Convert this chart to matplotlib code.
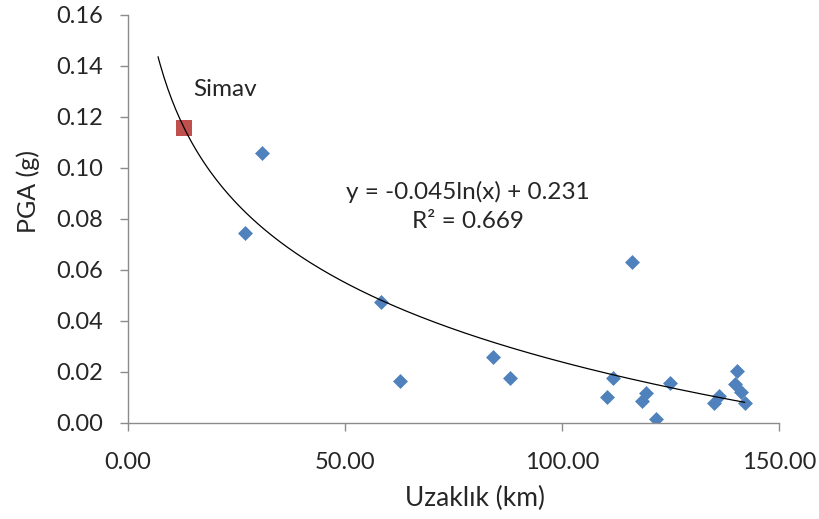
import numpy as np
import matplotlib
matplotlib.use("Agg")
import matplotlib.pyplot as plt

plt.rcParams['font.family'] = ['Lato', 'DejaVu Sans']

# Station distance (km) and peak ground acceleration (g)
distance_km = [31.0, 27.0, 58.4, 62.7, 116.1, 84.0, 87.9, 111.6, 110.3,
               119.2, 118.5, 121.5, 124.9, 140.2, 139.9, 141.1, 142.0,
               134.9, 136.1]
pga_g = [0.1056, 0.0743, 0.0475, 0.0165, 0.0631, 0.0256, 0.0176, 0.0176,
         0.0102, 0.0118, 0.0085, 0.0015, 0.0155, 0.0204, 0.0150, 0.0122,
         0.0078, 0.0076, 0.0105]

# Simav station highlighted separately
simav_km = [13.0]
simav_pga = [0.1155]
simav_label = "Simav"

# Logarithmic trendline: y = a*ln(x) + b
trend_a = -0.045
trend_b = 0.231
trend_r2 = 0.669
trend_range = [7.0, 142.0]

x_ticks = [0, 50, 100, 150]
y_ticks = [0.00, 0.02, 0.04, 0.06, 0.08, 0.10, 0.12, 0.14, 0.16]

text_color = '#262626'
axis_color = '#8c8c8c'

fig = plt.figure(figsize=(8.2, 5.19), dpi=100)
ax = fig.add_axes([0.1557, 0.1856, 0.7947, 0.7861])

xt = np.linspace(trend_range[0], trend_range[1], 300)
ax.plot(xt, trend_a * np.log(xt) + trend_b, color='black', lw=0.9, zorder=3)

ax.scatter(distance_km, pga_g, marker='D', s=7.6**2, color='#4F81BD',
           linewidths=0, zorder=2)
ax.scatter(simav_km, simav_pga, marker='s', s=11.3**2, color='#C0504D',
           linewidths=0, zorder=2)

ax.text(22.3, 0.1305, simav_label, ha='center', va='center',
        fontsize=17.5, color=text_color)
ax.text(78.3, 0.0906, f"y = {trend_a}ln(x) + {trend_b}", ha='center',
        va='center', fontsize=17.5, color=text_color)
ax.text(78.3, 0.0789, f"R² = {trend_r2}", ha='center', va='center',
        fontsize=17.5, color=text_color)

ax.set_xlim(0, 150)
ax.set_ylim(0, 0.16)
ax.set_xticks(x_ticks)
ax.set_yticks(y_ticks)
ax.set_xticklabels([f"{v:.2f}" for v in x_ticks])
ax.set_yticklabels([f"{v:.2f}" for v in y_ticks])

for side in ('top', 'right'):
    ax.spines[side].set_visible(False)
for side in ('left', 'bottom'):
    ax.spines[side].set_color(axis_color)
    ax.spines[side].set_linewidth(1.0)

ax.tick_params(axis='both', direction='out', length=6, width=1.0,
               color=axis_color, labelsize=17, labelcolor=text_color)
ax.tick_params(axis='y', pad=12)
ax.tick_params(axis='x', pad=15)

ax.set_xlabel("Uzaklık (km)", fontsize=19, color=text_color)
ax.set_ylabel("PGA (g)", fontsize=18, color=text_color)
ax.xaxis.set_label_coords(0.533, -0.155)
ax.yaxis.set_label_coords(-0.1346, 0.567)

fig.savefig("out.png", dpi=100)
